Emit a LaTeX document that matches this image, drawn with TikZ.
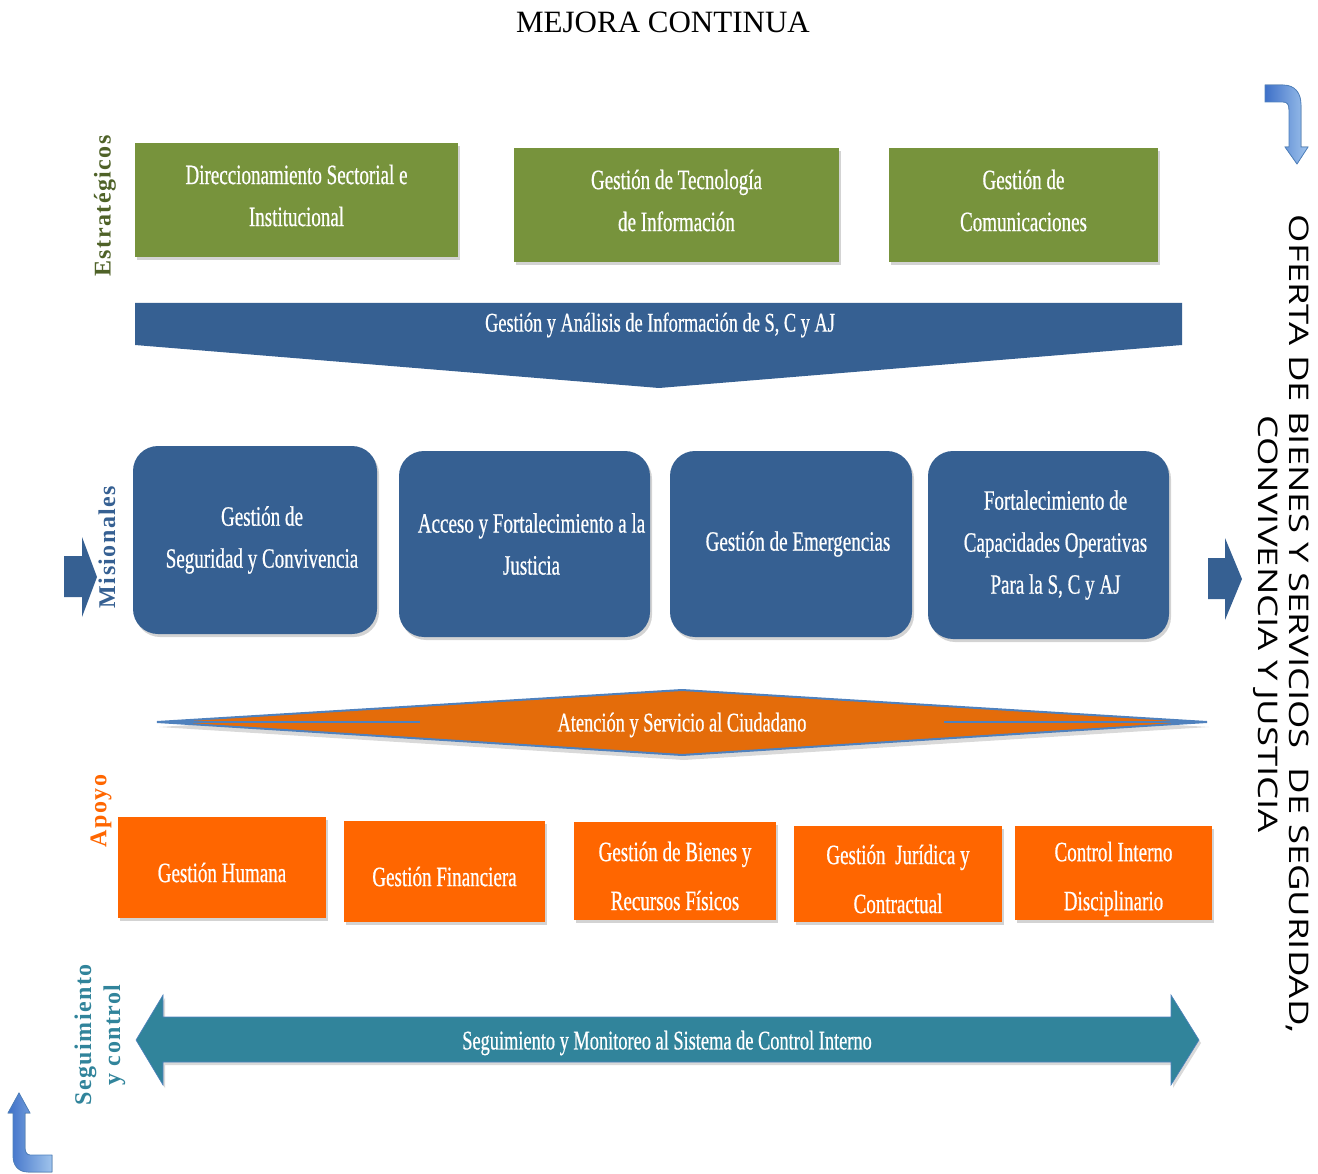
\documentclass[tikz,border=0pt]{standalone}
\usepackage{fontspec}
\setmainfont{Liberation Serif}
\newfontfamily\narrowfont[FakeStretch=0.68,FakeBold=0.6]{Liberation Serif}
\newfontfamily\labelfont[LetterSpace=6]{Liberation Serif}
\newfontfamily\ofertafont[FakeStretch=1.35]{Open Sans}
\usetikzlibrary{shadows}

\definecolor{verde}{RGB}{119,147,60}
\definecolor{verdeosc}{RGB}{79,98,40}
\definecolor{azul}{RGB}{54,96,146}
\definecolor{naranja}{RGB}{255,102,0}
\definecolor{naranjaosc}{RGB}{228,108,10}
\definecolor{lineaazul}{RGB}{79,129,189}
\definecolor{teal}{RGB}{49,132,155}
\definecolor{flechaosc}{RGB}{62,112,200}
\definecolor{flechaclara}{RGB}{160,196,236}

\tikzset{
  procbox/.style={inner sep=0pt,
    drop shadow={shadow xshift=2pt, shadow yshift=-3pt, opacity=0.35}},
  estrat/.style={procbox, fill=verde},
  misional/.style={procbox, fill=azul, rounded corners=25pt},
  apoyobox/.style={procbox, fill=naranja},
  boxtext/.style={text=white, align=center, inner sep=0pt, font=\narrowfont\fontsize{28}{42}\selectfont},
  apoyotext/.style={boxtext, font=\narrowfont\fontsize{28}{49}\selectfont},
  bandtext/.style={text=white, font=\narrowfont\fontsize{27}{32}\selectfont},
  sidelabel/.style={rotate=90, align=center, font=\labelfont\bfseries\fontsize{24}{29}\selectfont},
  curvearrow/.style={left color=flechaosc, right color=flechaclara, draw=lineaazul, line width=0.8pt}
}

\begin{document}
\begin{tikzpicture}[x=1pt,y=-1pt]
\useasboundingbox (0,0) rectangle (1318,1174);

\node[font=\fontsize{31}{36}\selectfont] (titulo) at (663,22) {MEJORA CONTINUA};

% estrategicos
\node[estrat, minimum width=323pt, minimum height=114pt] (direcc) at (296.5,200) {};
\node[estrat, minimum width=325pt, minimum height=114pt] (tecno) at (676.5,205) {};
\node[estrat, minimum width=269pt, minimum height=114pt] (comun) at (1023.5,205) {};
\node[boxtext] (t-direcc) at ([yshift=4.5pt]direcc) {Direccionamiento Sectorial e\\Institucional};
\node[boxtext] (t-tecno) at ([yshift=4.5pt]tecno) {Gestión de Tecnología\\de Información};
\node[boxtext] (t-comun) at ([yshift=4.5pt]comun) {Gestión de\\Comunicaciones};

% banda de informacion
\fill[azul] (135,303) -- (1182,303) -- (1182,345) -- (659,388) -- (135,345) -- cycle;
\node[bandtext] (info) at (660,325) {Gestión y Análisis de Información de S, C y AJ};

% misionales
\node[misional, minimum width=244pt, minimum height=188pt] (segur) at (255,540) {};
\node[misional, minimum width=251pt, minimum height=186pt] (acceso) at (524.5,544) {};
\node[misional, minimum width=242pt, minimum height=186pt] (emerg) at (791,544) {};
\node[misional, minimum width=241pt, minimum height=188pt] (capac) at (1048.5,545) {};
\node[boxtext] (t-segur) at ([xshift=7pt]segur) {Gestión de\\Seguridad y Convivencia};
\node[boxtext] (t-acceso) at ([xshift=7pt]acceso) {Acceso y Fortalecimiento a la\\Justicia};
\node[boxtext] (t-emerg) at ([xshift=7pt]emerg) {Gestión de Emergencias};
\node[boxtext] (t-capac) at ([xshift=7pt]capac) {Fortalecimiento de\\Capacidades Operativas\\Para la S, C y AJ};

\fill[azul] (64,556) -- (82,556) -- (82,537) -- (97,577) -- (82,617) -- (82,597) -- (64,597) -- cycle;
\fill[azul] (1208,558) -- (1225,558) -- (1225,538) -- (1242,579) -- (1225,620) -- (1225,599) -- (1208,599) -- cycle;

% atencion al ciudadano
\filldraw[fill=naranjaosc, draw=lineaazul, line width=2pt,
  drop shadow={shadow xshift=2pt, shadow yshift=-5pt, opacity=0.3}]
  (157,722) -- (682,690) -- (1207,722) -- (682,755) -- cycle;
\draw[lineaazul, line width=2pt] (157,722) -- (420,722);
\draw[lineaazul, line width=2pt] (944,722) -- (1207,722);
\node[bandtext] (ciudad) at (682,725) {Atención y Servicio al Ciudadano};

% apoyo
\node[apoyobox, minimum width=208pt, minimum height=101pt] (humana) at (222,867.5) {};
\node[apoyobox, minimum width=201pt, minimum height=101pt] (financ) at (444.5,871.5) {};
\node[apoyobox, minimum width=202pt, minimum height=98pt] (bienes) at (675,871) {};
\node[apoyobox, minimum width=208pt, minimum height=96pt] (juridica) at (898,874) {};
\node[apoyobox, minimum width=197pt, minimum height=94pt] (control) at (1113.5,873) {};
\node[apoyotext] (t-humana) at ([yshift=-5pt]humana) {Gestión Humana};
\node[apoyotext] (t-financ) at ([yshift=-5pt]financ) {Gestión Financiera};
\node[apoyotext] (t-bienes) at ([yshift=-5pt]bienes) {Gestión de Bienes y\\Recursos Físicos};
\node[apoyotext] (t-juridica) at ([yshift=-5pt]juridica) {Gestión\ \ Jurídica y\\Contractual};
\node[apoyotext] (t-control) at ([yshift=-6pt]control) {Control Interno\\Disciplinario};

% seguimiento
\filldraw[fill=teal, draw=lineaazul, line width=0.6pt,
  drop shadow={shadow xshift=2pt, shadow yshift=-3pt, opacity=0.3}]
  (136,1040) -- (163,995) -- (163,1017) -- (1171,1017) -- (1171,995) -- (1199,1040)
  -- (1171,1085) -- (1171,1062) -- (163,1062) -- (163,1085) -- cycle;
\node[bandtext] (monit) at (667,1043) {Seguimiento y Monitoreo al Sistema de Control Interno};

% etiquetas laterales
\node[sidelabel, text=verdeosc] (lestrat) at (105,206) {Estratégicos};
\node[sidelabel, text=azul] (lmision) at (107,547) {Misionales};
\node[sidelabel, text=naranja] (lapoyo) at (101,811) {Apoyo};
\node[sidelabel, text=teal] (lseguim) at (100,1035) {Seguimiento\\y control};

\node[rotate=-90, align=center, font=\ofertafont\fontsize{27}{31}\selectfont] (oferta) at (1281,624)
  {OFERTA DE BIENES Y SERVICIOS\ \ DE SEGURIDAD,\\CONVIVENCIA Y JUSTICIA};

% flechas curvas
\filldraw[curvearrow] (1265,85) -- (1283,85) .. controls (1295,85) and (1301,93) .. (1301,105)
  -- (1301,147) -- (1308,147) -- (1297,164) -- (1285,147) -- (1289,147) -- (1289,110)
  .. controls (1289,104) and (1287,102) .. (1283,102) -- (1265,102) -- cycle;
\filldraw[curvearrow] (13,1113) -- (8,1113) -- (19,1093) -- (30,1113) -- (25,1113) -- (25,1148)
  .. controls (25,1152) and (27,1155) .. (30,1155) -- (52,1155) -- (52,1172) -- (28,1172)
  .. controls (19,1172) and (13,1166) .. (13,1156) -- cycle;
\end{tikzpicture}
\end{document}
